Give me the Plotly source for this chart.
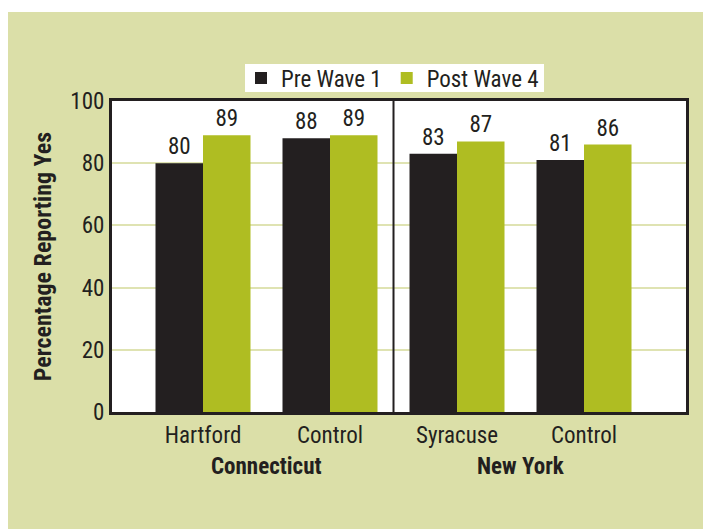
import plotly.graph_objects as go

categories = ["Hartford", "Control", "Syracuse", "Control"]
groups = ["Connecticut", "New York"]
pre_wave1 = [80, 88, 83, 81]
post_wave4 = [89, 89, 87, 86]
y_ticks = [0, 20, 40, 60, 80, 100]

FONT = "Liberation Sans Narrow, Roboto Condensed, Arial Narrow, Liberation Sans, sans-serif"
BG = "#dbdfa8"
GRID = "#dfe3b2"
BLACK = "#231f20"
GREEN = "#afbd22"

xpos = list(range(len(categories)))
BW = 0.374
fig = go.Figure()
fig.add_trace(go.Bar(x=xpos, y=pre_wave1, name="Pre Wave 1", marker_color=BLACK,
                     marker_line_width=0,
                     width=BW, offset=-BW, text=pre_wave1, textposition="outside",
                     textfont=dict(size=23, color=BLACK, family=FONT), cliponaxis=False))
fig.add_trace(go.Bar(x=xpos, y=post_wave4, name="Post Wave 4", marker_color=GREEN,
                     marker_line_width=0,
                     width=BW, offset=0, text=post_wave4, textposition="outside",
                     textfont=dict(size=23, color=BLACK, family=FONT), cliponaxis=False))

W, H = 703, 521
L, R, T, B = 104, 25, 93, 117
pw, ph = W - L - R, H - T - B
bottom = T + ph  # pixel row of the x axis


def px_x(p):
    return (p - L) / pw


def px_y(p):
    return (bottom - p) / ph


# thin white strip at the very top
fig.add_shape(type="rect", xref="paper", yref="paper",
              x0=-0.3, x1=1.2, y0=px_y(4), y1=px_y(-5),
              fillcolor="white", line_width=0, layer="below")
# white legend box
fig.add_shape(type="rect", xref="paper", yref="paper",
              x0=px_x(237), x1=px_x(536), y0=px_y(84), y1=px_y(56),
              fillcolor="white", line_width=0, layer="below")
# divider between states
fig.add_shape(type="line", xref="x", yref="paper", x0=1.5, x1=1.5, y0=0, y1=1,
              line=dict(color=BLACK, width=2))

for i, g in enumerate(groups):
    fig.add_annotation(x=0.5 + 2 * i, y=0, xref="x", yref="paper", yanchor="middle",
                       yshift=-54, text="<b>" + g + "</b>", showarrow=False,
                       font=dict(size=23, color=BLACK, family=FONT))

fig.update_layout(
    width=W, height=H,
    margin=dict(l=L, r=R, t=T, b=B),
    paper_bgcolor=BG, plot_bgcolor="white",
    font=dict(family=FONT, color=BLACK, size=23),
    barmode="overlay",
    showlegend=True,
    legend=dict(orientation="h", x=px_x(233), y=px_y(70),
                xanchor="left", yanchor="middle",
                bgcolor="rgba(0,0,0,0)", font=dict(size=23, family=FONT, color=BLACK),
                itemwidth=30, traceorder="normal"),
    xaxis=dict(range=[-0.7165, 3.803], tickvals=xpos, ticktext=categories,
               showgrid=False, showline=True, mirror=True, linecolor=BLACK, linewidth=3,
               ticks="", tickfont=dict(size=23, family=FONT, color=BLACK), zeroline=False),
    yaxis=dict(range=[0, 100], tickvals=y_ticks, showgrid=True, gridcolor=GRID, gridwidth=2,
               showline=True, mirror=True, linecolor=BLACK, linewidth=3, ticks="",
               tickfont=dict(size=23, family=FONT, color=BLACK), zeroline=False,
               title=dict(text="<b>Percentage Reporting Yes</b>", standoff=12,
                          font=dict(size=24, family=FONT, color=BLACK))),
)

fig.write_html("out.html")
